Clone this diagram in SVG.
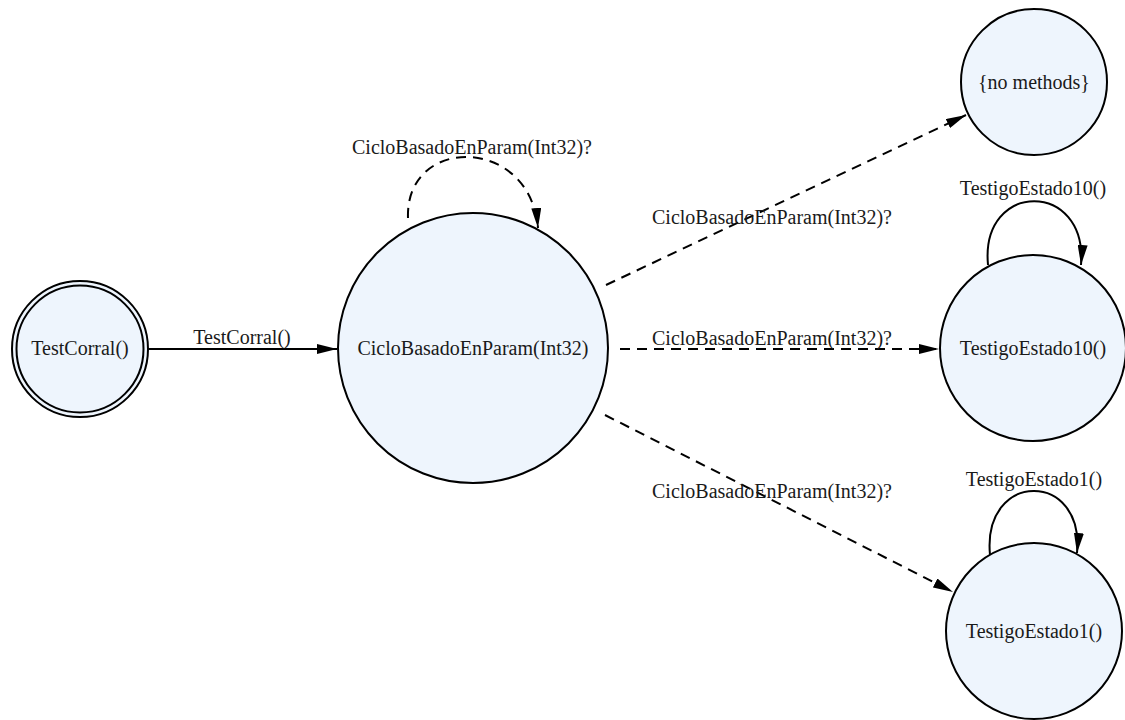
<svg xmlns="http://www.w3.org/2000/svg" width="1125" height="720" viewBox="0 0 1125 720">
  <style>
    .state { fill: #EEF5FD; stroke: #000; stroke-width: 2; }
    .lbl { font-family: "Liberation Serif", "DejaVu Serif", serif; font-size: 20px; fill: #1a1a1a; text-anchor: middle; }
    .edge { fill: none; stroke: #000; stroke-width: 2; }
    .dash { stroke-dasharray: 10 7; }
  </style>
  <defs>
    <marker id="arrow" viewBox="0 0 20 10" refX="20" refY="5" markerWidth="20" markerHeight="10" markerUnits="userSpaceOnUse" orient="auto">
      <path d="M0,0 L20,5 L0,10 z" fill="#000"/>
    </marker>
  </defs>

  <rect width="1125" height="720" fill="#fff"/>

  <!-- transitions -->
  <g id="connectors">
    <path class="edge" d="M148,349 L337,349" marker-end="url(#arrow)"/>
    <path class="edge dash" d="M408,218 C405,135 530,135 538,228" marker-end="url(#arrow)"/>
    <path class="edge dash" d="M606,285 L966,115" marker-end="url(#arrow)"/>
    <path class="edge dash" d="M620,349 L939,349" marker-end="url(#arrow)"/>
    <path class="edge dash" d="M605,415 L953,592" marker-end="url(#arrow)"/>
    <path class="edge" d="M988,265 C980,180 1088,180 1081,265" marker-end="url(#arrow)"/>
    <path class="edge" d="M990,555 C982,470 1085,470 1077,553" marker-end="url(#arrow)"/>

    <text class="lbl" x="242" y="344">TestCorral()</text>
    <text class="lbl" x="472" y="154">CicloBasadoEnParam(Int32)?</text>
    <text class="lbl" x="772" y="224">CicloBasadoEnParam(Int32)?</text>
    <text class="lbl" x="772" y="345">CicloBasadoEnParam(Int32)?</text>
    <text class="lbl" x="772" y="498">CicloBasadoEnParam(Int32)?</text>
    <text class="lbl" x="1033" y="195">TestigoEstado10()</text>
    <text class="lbl" x="1034" y="486">TestigoEstado1()</text>
  </g>

  <!-- states -->
  <g id="node-testcorral">
    <circle class="state" cx="80" cy="349" r="68"/>
    <circle class="state" cx="80" cy="349" r="63.5"/>
    <text class="lbl" x="80" y="355">TestCorral()</text>
  </g>
  <g id="node-ciclo">
    <circle class="state" cx="473" cy="348" r="135"/>
    <text class="lbl" x="473" y="355">CicloBasadoEnParam(Int32)</text>
  </g>
  <g id="node-nomethods">
    <circle class="state" cx="1034" cy="82" r="73"/>
    <text class="lbl" x="1034" y="89">{no methods}</text>
  </g>
  <g id="node-testigo10">
    <circle class="state" cx="1033" cy="348" r="93"/>
    <text class="lbl" x="1033" y="355">TestigoEstado10()</text>
  </g>
  <g id="node-testigo1">
    <circle class="state" cx="1034" cy="631" r="88"/>
    <text class="lbl" x="1034" y="638">TestigoEstado1()</text>
  </g>
</svg>
